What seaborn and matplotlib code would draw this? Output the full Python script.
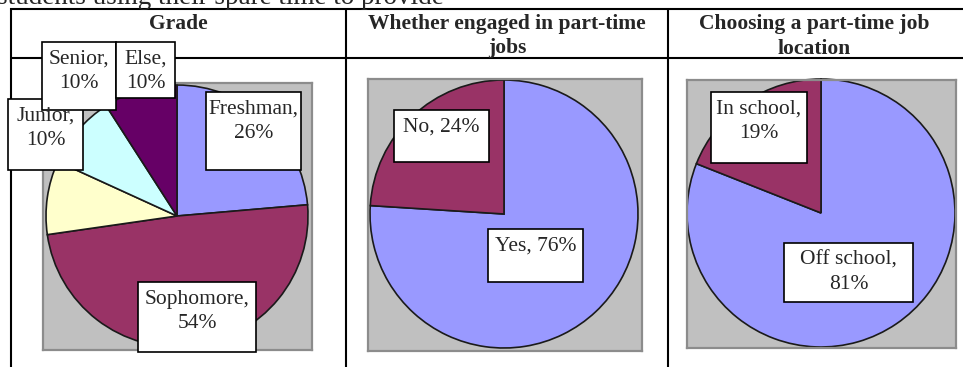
import matplotlib
matplotlib.use("Agg")
import matplotlib.pyplot as plt
from matplotlib.patches import Rectangle
import seaborn as sns

# ---- data -----------------------------------------------------------------
grade_categories = ["Freshman", "Sophomore", "Junior", "Senior", "Else"]
grade_percent = [26, 54, 10, 10, 10]

parttime_categories = ["Yes", "No"]
parttime_percent = [76, 24]

location_categories = ["Off school", "In school"]
location_percent = [81, 19]

panel_titles = ["Grade",
                "Whether engaged in part-time\njobs",
                "Choosing a part-time job\nlocation"]
caption = "students using their spare time to provide"

# ---- style ----------------------------------------------------------------
sns.set_theme(style="white")
plt.rcParams["font.family"] = ["Liberation Serif", "DejaVu Serif"]
palette = sns.color_palette(["#9999FF", "#993366", "#FFFFCC", "#CCFFFF", "#660066"])

W, H = 963, 367
fig = plt.figure(figsize=(W / 100, H / 100), dpi=100)
fig.patch.set_facecolor("white")


def px_axes(x0, y0, x1, y1):
    return fig.add_axes([x0 / W, 1 - y1 / H, (x1 - x0) / W, (y1 - y0) / H])


# panel layout in pixels: gray plot area, pie centre and radius, label boxes
panels = [
    dict(cats=grade_categories, vals=grade_percent, area=(43, 83, 312, 350),
         centre=(177, 216), radius=131, sep=",\n",
         boxes=[(206, 92, 301, 170), (138, 282, 256, 352), (8, 99, 83, 170),
                (42, 42, 116, 110), (116, 42, 175, 98)]),
    dict(cats=parttime_categories, vals=parttime_percent, area=(368, 79, 642, 351),
         centre=(504, 214), radius=134, sep=", ",
         boxes=[(488, 229, 583, 282), (394, 110, 489, 162)]),
    dict(cats=location_categories, vals=location_percent, area=(687, 80, 956, 348),
         centre=(821, 213), radius=134, sep=",\n",
         boxes=[(784, 243, 913, 302), (711, 92, 807, 163)]),
]

for p in panels:
    x0, y0, x1, y1 = p["area"]
    cx, cy = p["centre"]
    r = p["radius"]
    ax = px_axes(x0, y0, x1, y1)
    ax.pie(p["vals"], colors=palette[:len(p["vals"])], startangle=90,
           counterclock=False,
           wedgeprops=dict(edgecolor="#1A1A1A", linewidth=1.2))
    ax.set_frame_on(True)
    ax.set_facecolor("#C0C0C0")
    ax.set_xlim((x0 - cx) / r, (x1 - cx) / r)
    ax.set_ylim((cy - y1) / r, (cy - y0) / r)
    ax.set_aspect("auto")
    ax.set_xticks([])
    ax.set_yticks([])
    for s in ax.spines.values():
        s.set_visible(True)
        s.set_color("#8C8C8C")
        s.set_linewidth(1.6)

# ---- overlay: table rules, headings and label boxes ------------------------
ov = fig.add_axes([0, 0, 1, 1])
ov.set_xlim(0, W)
ov.set_ylim(H, 0)
ov.axis("off")
ov.patch.set_alpha(0)

rule = dict(color="black", lw=1.5, solid_capstyle="butt", clip_on=False, zorder=2)
ov.plot([10, W], [8.5, 8.5], **rule)
ov.plot([10, W], [58, 58], **rule)
for xv in (10.5, 346, 668):
    ov.plot([xv, xv], [8, H], **rule)

ov.text(-3, 3.5, caption, fontsize=19.5, ha="left", va="baseline", zorder=3)

for title, xc in zip(panel_titles, (178, 507, 814)):
    ov.text(xc, 14, title, fontsize=15.5, fontweight="bold", ha="center",
            va="top", linespacing=1.3, zorder=3)

for p in panels:
    for cat, val, (bx0, by0, bx1, by1) in zip(p["cats"], p["vals"], p["boxes"]):
        ov.add_patch(Rectangle((bx0, by0), bx1 - bx0, by1 - by0,
                               facecolor="white", edgecolor="black",
                               lw=1.2, zorder=5))
        ov.text((bx0 + bx1) / 2, by0 + 8, f"{cat}{p['sep']}{val}%",
                fontsize=15.5, ha="center", va="top", linespacing=1.33, zorder=6)

fig.savefig("out.png", dpi=100)
